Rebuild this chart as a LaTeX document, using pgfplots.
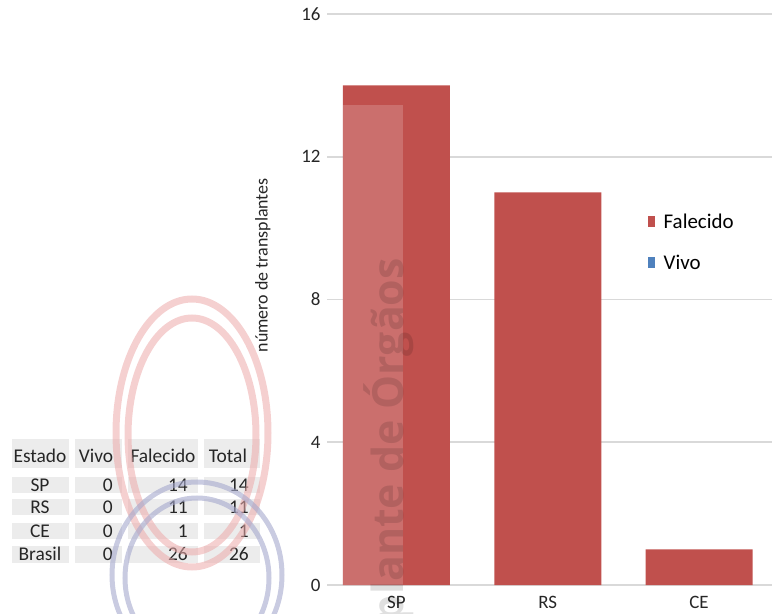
\documentclass[border=0pt]{standalone}
\usepackage{fontspec}
\setmainfont{Carlito}
\newfontfamily\wmfont{Open Sans}
\usepackage{pgfplots}
\pgfplotsset{compat=1.18}
\definecolor{barred}{RGB}{192,80,77}
\definecolor{vivoblue}{RGB}{79,129,189}
\definecolor{cellgray}{RGB}{236,236,236}
\definecolor{gridgray}{RGB}{217,217,217}
\definecolor{ringred}{RGB}{236,170,170}
\definecolor{ringblue}{RGB}{165,168,205}
\begin{document}
\begin{tikzpicture}
\useasboundingbox (0,0) rectangle (772bp,-614bp);
\begin{scope}
\clip (0,0) rectangle (772bp,-614bp);
\begin{scope}[x=1bp,y=-1bp]
  % table cells
  \foreach \a/\b in {12/69,75/122,128/198,204/260} {
    \fill[cellgray] (\a,439) rectangle (\b,468);
    \foreach \t/\u in {477/493,499/515,523/539,546/563}
      \fill[cellgray] (\a,\t) rectangle (\b,\u);
  }
  \begin{scope}[every node/.style={inner sep=0pt, font=\fontsize{19.5}{20}\selectfont, text=black!85}]
    \node at (40,456) {Estado};
    \node at (96,456) {Vivo};
    \node at (163,456) {Falecido};
    \node at (228,456) {Total};
    \node at (40,485) {SP};
    \node at (40,507) {RS};
    \node at (40,531) {CE};
    \node at (40,554) {Brasil};
    \node[anchor=east] at (113,485) {0};
    \node[anchor=east] at (113,507) {0};
    \node[anchor=east] at (113,531) {0};
    \node[anchor=east] at (113,554) {0};
    \node[anchor=east] at (188,485) {14};
    \node[anchor=east] at (188,507) {11};
    \node[anchor=east] at (188,531) {1};
    \node[anchor=east] at (188,554) {26};
    \node[anchor=east] at (249,485) {14};
    \node[anchor=east] at (249,507) {11};
    \node[anchor=east] at (249,531) {1};
    \node[anchor=east] at (249,554) {26};
  \end{scope}
  % watermark rings
  \draw[ringred, line width=7bp, opacity=0.55] (192,433) ellipse [x radius=76, y radius=134];
  \draw[ringred, line width=7bp, opacity=0.55] (192,435) ellipse [x radius=64, y radius=117];
  \draw[ringblue, line width=5bp, opacity=0.6] (197,575) ellipse [x radius=85, y radius=93];
  \draw[ringblue, line width=5bp, opacity=0.6] (197,578) ellipse [x radius=72, y radius=80];
\end{scope}
\begin{axis}[
  at={(327bp,-585bp)}, anchor=south west,
  width=445bp, height=571bp, scale only axis,
  xmin=-0.459, xmax=2.482, ymin=0, ymax=16,
  ytick={0,4,8,12,16},
  xtick={0,1,2}, xticklabels={SP,RS,CE},
  axis line style={draw=none},
  major tick length=0pt,
  ymajorgrids, grid style={gridgray, line width=1.6bp},
  /pgf/number format/assume math mode=true,
  tick label style={font=\fontsize{19}{19}\selectfont, text=black!85},
  yticklabel style={xshift=-3bp},
  xticklabel style={yshift=-8bp},
  ylabel={número de transplantes},
  ylabel style={at={(rel axis cs:-0.144,0.560)}, anchor=center, font=\fontsize{18}{18}\selectfont, text=black!85},
  legend style={at={(rel axis cs:0.7213,0.654)}, anchor=north west, draw=none, fill=none,
    font=\fontsize{21}{24}\selectfont, row sep=21bp, column sep=7bp, inner sep=0pt},
  legend cell align=left,
  legend image code/.code={\fill[#1] (0bp,-5.5bp) rectangle (6.5bp,5.5bp);},
]
\addplot[ybar, bar width=107bp, fill=barred, draw=none] coordinates {(0,14) (1,11) (2,1)};
\addlegendimage{fill=vivoblue, draw=none}
\legend{{\fontsize{21}{24}\selectfont Falecido}, {\fontsize{21}{24}\selectfont Vivo}}
\end{axis}
\begin{scope}[x=1bp,y=-1bp]
  \fill[white, opacity=0.18] (343,105) rectangle (403,585);
  \node[rotate=90, anchor=base east, inner sep=0pt, text=black, opacity=0.12,
        font=\wmfont\bfseries\fontsize{43}{43}\selectfont] at (403,258) {Transplante de Órgãos};
\end{scope}
\end{scope}
\end{tikzpicture}
\end{document}
